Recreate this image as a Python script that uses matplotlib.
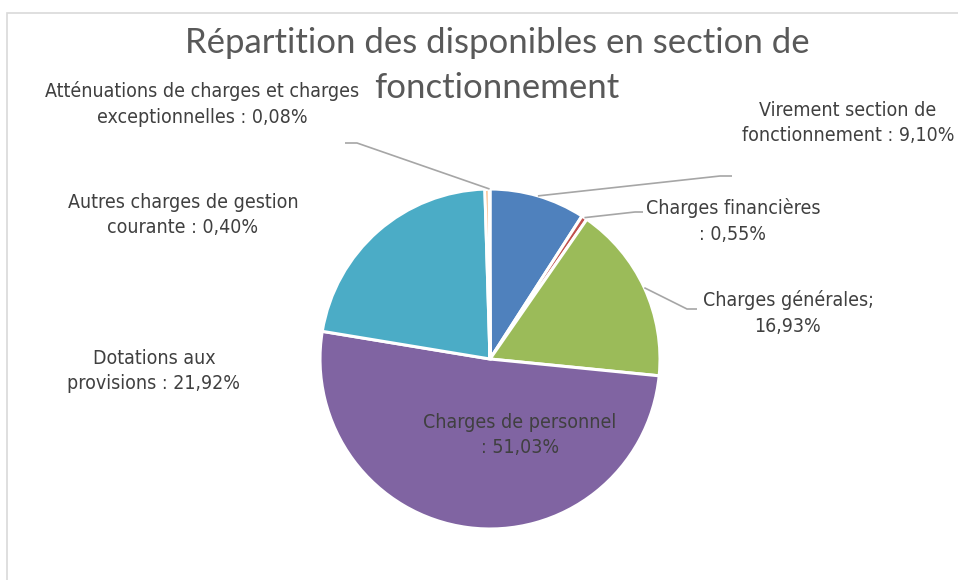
import numpy as np
import matplotlib
matplotlib.use("Agg")
import matplotlib.pyplot as plt
from matplotlib import font_manager as fm
from matplotlib.patches import Rectangle

# -------------------------------
# Data
# -------------------------------
categories = [
    "Virement section de fonctionnement",
    "Charges financières",
    "Charges générales",
    "Charges de personnel",
    "Dotations aux provisions",
    "Autres charges de gestion courante",
    "Atténuations de charges et charges exceptionnelles",
]
values = [9.10, 0.55, 16.93, 51.03, 21.92, 0.40, 0.08]
colors = ["#4F81BD", "#C0504D", "#9BBB59", "#8064A2", "#4BACC6", "#F79646", "#2C4D75"]

label_fmt = [
    "Virement section de\nfonctionnement : {}%",
    "Charges financières\n: {}%",
    "Charges générales;\n{}%",
    "Charges de personnel\n: {}%",
    "Dotations aux\nprovisions : {}%",
    "Autres charges de gestion\ncourante : {}%",
    "Atténuations de charges et charges\nexceptionnelles : {}%",
]
title_lines = ["Répartition des disponibles en section de", "fonctionnement"]

# -------------------------------
# Layout (pixels, y from top)
# -------------------------------
W, H = 958, 580
cx, cy, R = 490, 359, 170
label_pos = [(848, 123), (733, 221), (788, 313), (520, 435),
             (154, 371), (183, 215), (202, 104)]
# elbow points of leader lines (None = no leader)
leaders = [[(720, 176), (732, 176)],
           [(635, 212), (643, 212)],
           [(687, 309), (697, 309)],
           None, None, None,
           [(357, 143), (345, 143)]]
title_y = [43, 88]

# pick a narrow sans if one is installed (labels look like Arial Narrow)
installed = {(f.name, f.stretch) for f in fm.fontManager.ttflist}
names = {n for n, s in installed}
if "Liberation Sans Narrow" in names:
    label_font = dict(family=["Liberation Sans Narrow", "DejaVu Sans"], fontsize=16.5)
elif ("DejaVu Sans", "condensed") in installed:
    label_font = dict(family=["DejaVu Sans"], fontstretch="condensed", fontsize=14)
else:
    label_font = dict(family=["Liberation Sans", "DejaVu Sans"], fontsize=13.5)

title_font = ["Lato", "DejaVu Sans"]


def px(x, y):
    return x, H - y


fig = plt.figure(figsize=(W / 100, H / 100), dpi=100)
ax = fig.add_axes([0, 0, 1, 1])

wedges, _ = ax.pie(values, colors=colors, startangle=90, counterclock=False,
                   radius=R, center=px(cx, cy),
                   wedgeprops=dict(edgecolor="white", linewidth=2.2))
ax.set_xlim(0, W)
ax.set_ylim(0, H)
ax.set_aspect("equal")
ax.axis("off")

# chart frame
ax.add_patch(Rectangle(px(7, 600), 1000, 600 - 13, fill=False,
                       edgecolor="#D9D9D9", linewidth=1.2, clip_on=False))

# labels and leader lines
for w, v, fmt, pos, lead in zip(wedges, values, label_fmt, label_pos, leaders):
    txt = fmt.format(f"{v:.2f}".replace(".", ","))
    ax.text(*px(*pos), txt, ha="center", va="center", color="#404040",
            linespacing=1.42, **label_font)
    if lead is not None:
        ang = np.deg2rad((w.theta1 + w.theta2) / 2)
        start = (w.center[0] + R * np.cos(ang), w.center[1] + R * np.sin(ang))
        pts = [start] + [px(*p) for p in lead]
        xs, ys = zip(*pts)
        ax.plot(xs, ys, color="#A6A6A6", linewidth=1.2, solid_capstyle="butt")

# title, one text per line (as wrapped by the original chart)
for line, y in zip(title_lines, title_y):
    ax.text(*px(497, y), line, ha="center", va="center", fontsize=25,
            family=title_font, color="#595959")

plt.savefig("out.png", dpi=100)
